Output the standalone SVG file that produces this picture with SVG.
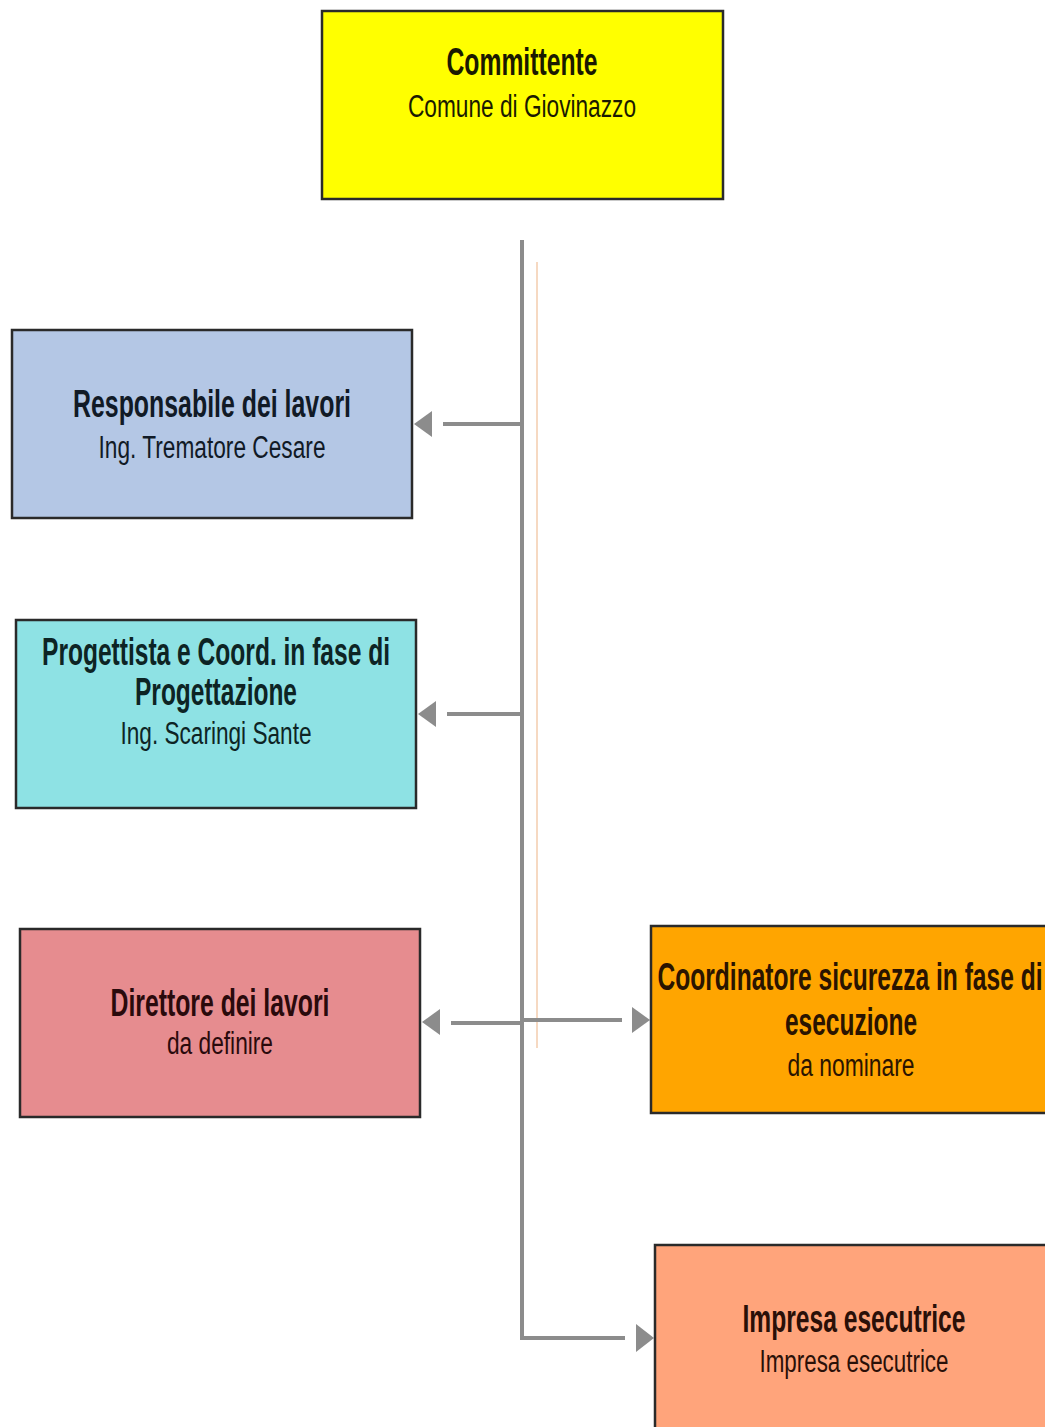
<svg xmlns="http://www.w3.org/2000/svg" width="1045" height="1427" viewBox="0 0 1045 1427">
<style>
  .box { stroke: #2a2a2a; stroke-width: 2.5; }
  .t { font-family: "Liberation Sans", Arial, sans-serif; font-weight: bold; font-size: 38px; text-anchor: middle; }
  .s { font-family: "Liberation Sans", Arial, sans-serif; font-size: 31px; text-anchor: middle; }
  .conn { stroke: #8c8c8c; stroke-width: 4; fill: none; }
  .head { fill: #8c8c8c; }
</style>
<rect width="1045" height="1427" fill="#ffffff"/>

<g id="connectors">
  <line x1="537" y1="262" x2="537" y2="1048" stroke="#f6d9c2" stroke-width="2"/>
  <polyline class="conn" points="522,240 522,1338 625,1338"/>
  <line class="conn" x1="522" y1="424" x2="443" y2="424"/>
  <polygon class="head" points="414,424 432,411 432,437"/>
  <line class="conn" x1="522" y1="714" x2="447" y2="714"/>
  <polygon class="head" points="418,714 436,701 436,727"/>
  <line class="conn" x1="522" y1="1023" x2="451" y2="1023"/>
  <polygon class="head" points="422,1022 440,1009 440,1035"/>
  <line class="conn" x1="522" y1="1020" x2="622" y2="1020"/>
  <polygon class="head" points="650,1020 632,1007 632,1033"/>
  <polygon class="head" points="654,1338 636,1324 636,1352"/>
</g>

<g id="committente">
  <rect class="box" x="322" y="11" width="401" height="188" fill="#ffff00"/>
  <text class="t" x="522" y="75" textLength="151" lengthAdjust="spacingAndGlyphs" fill="#1a1a00">Committente</text>
  <text class="s" x="522" y="117" textLength="228" lengthAdjust="spacingAndGlyphs" fill="#1a1a00">Comune di Giovinazzo</text>
</g>

<g id="responsabile">
  <rect class="box" x="12" y="330" width="400" height="188" fill="#b4c7e5"/>
  <text class="t" x="212" y="417" textLength="278" lengthAdjust="spacingAndGlyphs" fill="#111a26">Responsabile dei lavori</text>
  <text class="s" x="212" y="458" textLength="227" lengthAdjust="spacingAndGlyphs" fill="#111a26">Ing. Trematore Cesare</text>
</g>

<g id="progettista">
  <rect class="box" x="16" y="620" width="400" height="188" fill="#8ee2e4"/>
  <text class="t" x="216" y="665" textLength="348" lengthAdjust="spacingAndGlyphs" fill="#0d2424">Progettista e Coord. in fase di</text>
  <text class="t" x="216" y="705" textLength="162" lengthAdjust="spacingAndGlyphs" fill="#0d2424">Progettazione</text>
  <text class="s" x="216" y="744" textLength="191" lengthAdjust="spacingAndGlyphs" fill="#0d2424">Ing. Scaringi Sante</text>
</g>

<g id="direttore">
  <rect class="box" x="20" y="929" width="400" height="188" fill="#e68c8f"/>
  <text class="t" x="220" y="1016" textLength="219" lengthAdjust="spacingAndGlyphs" fill="#2a0a0c">Direttore dei lavori</text>
  <text class="s" x="220" y="1054" textLength="106" lengthAdjust="spacingAndGlyphs" fill="#2a0a0c">da definire</text>
</g>

<g id="coordinatore">
  <rect class="box" x="651" y="926" width="410" height="187" fill="#ffa500"/>
  <text class="t" x="850" y="990" textLength="385" lengthAdjust="spacingAndGlyphs" fill="#2a1400">Coordinatore sicurezza in fase di</text>
  <text class="t" x="851" y="1035" textLength="132" lengthAdjust="spacingAndGlyphs" fill="#2a1400">esecuzione</text>
  <text class="s" x="851" y="1076" textLength="127" lengthAdjust="spacingAndGlyphs" fill="#2a1400">da nominare</text>
</g>

<g id="impresa">
  <rect class="box" x="655" y="1245" width="410" height="200" fill="#ffa47b"/>
  <text class="t" x="854" y="1332" textLength="223" lengthAdjust="spacingAndGlyphs" fill="#2a1008">Impresa esecutrice</text>
  <text class="s" x="854" y="1372" textLength="189" lengthAdjust="spacingAndGlyphs" fill="#2a1008">Impresa esecutrice</text>
</g>
</svg>
